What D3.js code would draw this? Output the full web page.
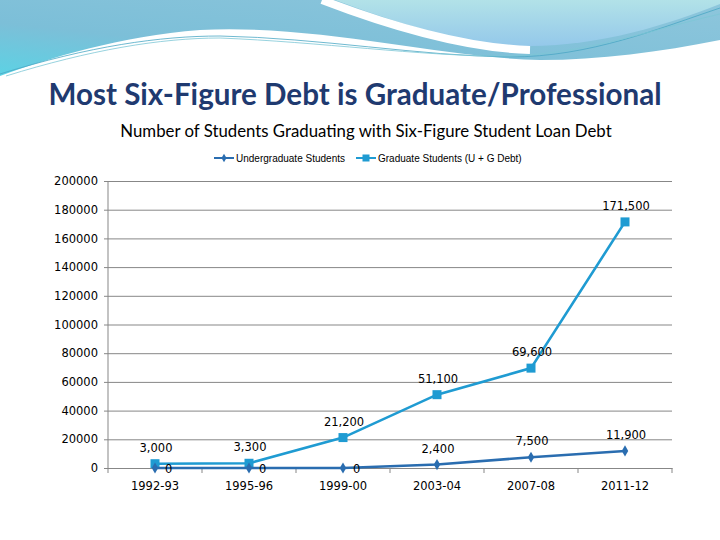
<!DOCTYPE html>
<html>
<head>
  <meta charset="utf-8">
  <script src="https://d3js.org/d3.v7.min.js"></script>
  <style>
  body{
    margin: 0;
    background: #fff;
  }
  svg{
    display: block;
  }
  </style>
</head>
<body>
  <script type="text/javascript">
    // chart data
    var years=["1992-93","1995-96","1999-00","2003-04","2007-08","2011-12"];
    var undergrad=[0,0,0,2400,7500,11900];
    var graduate=[3000,3300,21200,51100,69600,171500];
    var yTicks=[0,20000,40000,60000,80000,100000,120000,140000,160000,180000,200000];
    var seriesNames=["Undergraduate Students","Graduate Students (U + G Debt)"];

    var width=720;
    var height=540;
    var plotL=108, plotR=672, plotT=181, plotB=468;
    var ugColor="#2a6db0";
    var gColor="#1f9bd2";
    var axisColor="#878787";
    var tickFont="DejaVu Sans";

    var svg=d3.select("body").append("svg")
              .attr("width",width)
              .attr("height",height);

    // background decoration (top waves)
    var defs=svg.append("defs");
    var g1=defs.append("linearGradient").attr("id","bgBlue")
               .attr("x1","0").attr("y1","1").attr("x2","1").attr("y2","0");
    g1.append("stop").attr("offset","0").attr("stop-color","#5cd2e4");
    g1.append("stop").attr("offset","0.35").attr("stop-color","#7cbfd8");
    g1.append("stop").attr("offset","1").attr("stop-color","#8ec6dc");
    var g2=defs.append("linearGradient").attr("id","bgLight")
               .attr("x1","0").attr("y1","0").attr("x2","0").attr("y2","1");
    g2.append("stop").attr("offset","0").attr("stop-color","#b2e2e8");
    g2.append("stop").attr("offset","1").attr("stop-color","#94c8ea");

    var deco=svg.append("g").attr("class","deco");
    deco.append("path")
        .attr("d","M0,0 L720,0 L720,40 C660,52 600,60 540,60 C440,58 320,24 200,30 C120,36 50,58 0,76 Z")
        .attr("fill","url(#bgBlue)");
    deco.append("path")
        .attr("d","M335,0 C405,26 470,46 530,46 C600,46 670,24 720,4 L720,0 Z")
        .attr("fill","url(#bgLight)");
    deco.append("path")
        .attr("d","M322,0 C395,28 465,48 530,50")
        .attr("fill","none").attr("stroke","#fff").attr("stroke-width",8);
    deco.append("path")
        .attr("d","M0,74 C90,46 160,36 220,36 C320,38 420,56 510,57 C590,57 660,28 720,8")
        .attr("fill","none").attr("stroke","#4aa7c4").attr("stroke-width",0.8);
    deco.append("path")
        .attr("d","M6,76 C90,50 160,38 220,38 C320,42 420,56 500,56 C580,56 650,30 720,14")
        .attr("fill","none").attr("stroke","#7cc7d6").attr("stroke-width",0.8);

    // titles
    svg.append("text")
       .attr("x",355).attr("y",105)
       .attr("text-anchor","middle")
       .style("font-family","Lato")
       .style("font-weight","bold")
       .style("font-size","29.6px")
       .attr("fill","#1f3a70")
       .text("Most Six-Figure Debt is Graduate/Professional");
    svg.append("text")
       .attr("x",366).attr("y",137)
       .attr("text-anchor","middle")
       .style("font-family","Lato")
       .style("font-size","16.8px")
       .attr("fill","#000")
       .text("Number of Students Graduating with Six-Figure Student Loan Debt");

    // scales
    var x=d3.scaleBand().domain(years).range([plotL,plotR]);
    var y=d3.scaleLinear().domain([0,200000]).range([plotB,plotT]);

    // gridlines + y axis
    var yAxis=svg.append("g")
       .attr("transform","translate("+plotL+",0)")
       .call(d3.axisLeft(y).tickValues(yTicks).tickSize(-(plotR-plotL)).tickSizeOuter(0).tickFormat(d3.format("d")));
    yAxis.select(".domain").remove();
    yAxis.selectAll(".tick line").attr("stroke",axisColor).attr("x1",-4);
    yAxis.selectAll(".tick text")
         .attr("x",-10)
         .style("font-family",tickFont)
         .style("font-size","11.5px")
         .attr("fill","#000");
    svg.append("line")
       .attr("x1",plotL).attr("x2",plotL).attr("y1",plotT).attr("y2",plotB)
       .attr("stroke",axisColor);

    // x axis
    var xAxis=svg.append("g")
       .attr("transform","translate(0,"+plotB+")")
       .call(d3.axisBottom(x).tickSize(0).tickPadding(14));
    xAxis.select(".domain").attr("stroke",axisColor);
    xAxis.selectAll(".tick text")
         .style("font-family",tickFont)
         .style("font-size","11.5px")
         .attr("fill","#000");
    var bounds=years.map(function(d){return x(d)}).concat([x(years[years.length-1])+x.bandwidth()]);
    svg.selectAll("line.xtick")
       .data(bounds)
       .enter()
       .append("line")
       .attr("class","xtick")
       .attr("x1",function(d){return d}).attr("x2",function(d){return d})
       .attr("y1",plotB).attr("y2",plotB+5)
       .attr("stroke",axisColor);

    var cx=function(i){return x(years[i])+x.bandwidth()/2};
    var line=d3.line()
               .x(function(d,i){return cx(i)})
               .y(function(d){return y(d)});

    // graduate series
    svg.append("path")
       .datum(graduate)
       .attr("d",line)
       .attr("fill","none")
       .attr("stroke",gColor)
       .attr("stroke-width",2.6);
    svg.selectAll("rect.gmark")
       .data(graduate)
       .enter()
       .append("rect")
       .attr("class","gmark")
       .attr("x",function(d,i){return cx(i)-4.5})
       .attr("y",function(d){return y(d)-4.5})
       .attr("width",9).attr("height",9)
       .attr("fill",gColor);

    // undergraduate series
    svg.append("path")
       .datum(undergrad)
       .attr("d",line)
       .attr("fill","none")
       .attr("stroke",ugColor)
       .attr("stroke-width",2.6);
    svg.selectAll("path.umark")
       .data(undergrad)
       .enter()
       .append("path")
       .attr("class","umark")
       .attr("d",d3.symbol().type(d3.symbolDiamond).size(36))
       .attr("transform",function(d,i){return "translate("+cx(i)+","+y(d)+")"})
       .attr("fill",ugColor);

    // data labels
    var fmt=d3.format(",");
    svg.selectAll("text.glabel")
       .data(graduate)
       .enter()
       .append("text")
       .attr("class","glabel")
       .attr("x",function(d,i){return cx(i)+1})
       .attr("y",function(d){return y(d)-12})
       .attr("text-anchor","middle")
       .style("font-family",tickFont)
       .style("font-size","11.5px")
       .text(function(d){return fmt(d)});
    svg.selectAll("text.ulabel")
       .data(undergrad)
       .enter()
       .append("text")
       .attr("class","ulabel")
       .attr("x",function(d,i){return d===0 ? cx(i)+10 : cx(i)+1})
       .attr("y",function(d){return d===0 ? y(d)+5 : y(d)-12})
       .attr("text-anchor",function(d){return d===0 ? "start" : "middle"})
       .style("font-family",tickFont)
       .style("font-size","11.5px")
       .text(function(d){return fmt(d)});

    // legend
    var legend=svg.append("g").attr("class","legend");
    var legX=[214,356];
    var legColors=[ugColor,gColor];
    legend.selectAll("line")
          .data(seriesNames)
          .enter()
          .append("line")
          .attr("x1",function(d,i){return legX[i]})
          .attr("x2",function(d,i){return legX[i]+20})
          .attr("y1",158).attr("y2",158)
          .attr("stroke",function(d,i){return legColors[i]})
          .attr("stroke-width",2);
    legend.append("path")
          .attr("d",d3.symbol().type(d3.symbolDiamond).size(22))
          .attr("transform","translate("+(legX[0]+10)+",158)")
          .attr("fill",ugColor);
    legend.append("rect")
          .attr("x",legX[1]+6.5).attr("y",154.5)
          .attr("width",7).attr("height",7)
          .attr("fill",gColor);
    legend.selectAll("text")
          .data(seriesNames)
          .enter()
          .append("text")
          .attr("x",function(d,i){return legX[i]+22})
          .attr("y",162)
          .style("font-family","Liberation Sans")
          .style("font-size","10px")
          .text(function(d){return d});
  </script>
</body>
</html>
